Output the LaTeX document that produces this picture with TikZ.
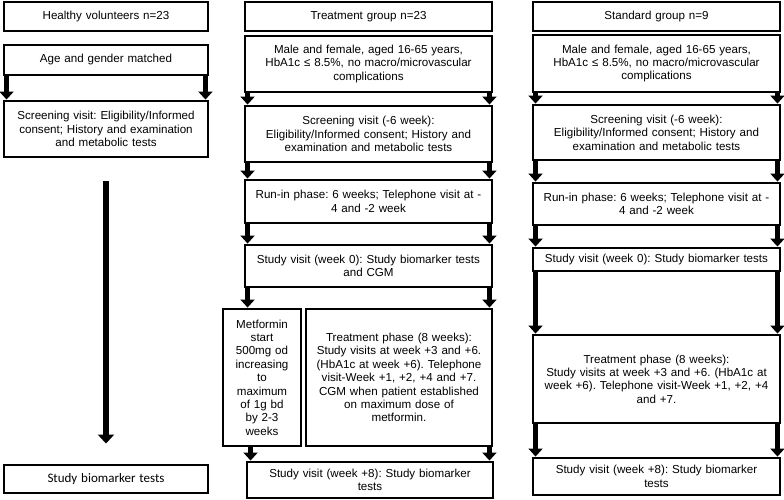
\documentclass[tikz,border=0pt]{standalone}
\usepackage{fontspec}
\setmainfont{Liberation Sans}
\newfontfamily\calibrifont{Carlito}
\usetikzlibrary{arrows.meta, calc}
\frenchspacing

\begin{document}
\begin{tikzpicture}[
  x=1pt, y=-1pt,
  every node/.style={font=\fontsize{11.6}{13.4}\selectfont},
  flowbox/.style={draw, line width=2.9pt, align=center, inner xsep=4pt, inner ysep=2pt},
  flowarrow/.style={line width=4.6pt, -{Triangle[length=8pt, width=14pt]}},
  bigarrow/.style={line width=6.5pt, -{Triangle[length=9pt, width=16pt]}}
]
  \useasboundingbox (0,0) rectangle (784,500);

  % Macro to draw one box from its corners
  % Args: name, left, top, right, bottom, text
  \newcommand{\flowbox}[6]{%
    \pgfmathsetmacro{\boxw}{#4-#2}
    \pgfmathsetmacro{\boxh}{#5-#3}
    \pgfmathsetmacro{\boxtw}{#4-#2-8}
    \node[flowbox, minimum width=\boxw pt, minimum height=\boxh pt, text width=\boxtw pt]
      (#1) at ({(#2+#4)/2},{(#3+#5)/2}) {#6};
  }

  % Healthy volunteers
  \flowbox{headH}{4}{2}{208}{31}{Healthy volunteers n=23}
  \flowbox{ageH}{4}{45}{208}{75}{Age and gender matched}
  \flowbox{scrH}{4}{101}{208}{157}
    {Screening visit: Eligibility/Informed\\consent; History and examination\\and metabolic tests}
  \flowbox{bioH}{4}{465}{208}{493}
    {\calibrifont\fontsize{13}{15}\selectfont Study biomarker tests}

  % Treatment group
  \flowbox{headT}{245}{2}{492}{31}{Treatment group n=23}
  \flowbox{inclT}{245}{36}{492}{92}
    {Male and female, aged 16-65 years,\\HbA1c ≤ 8.5\%, no macro/microvascular\\complications}
  \flowbox{scrT}{245}{106}{492}{162}
    {Screening visit (-6 week):\\Eligibility/Informed consent; History and\\examination and metabolic tests}
  \flowbox{runT}{245}{180}{492}{223}
    {Run-in phase: 6 weeks; Telephone visit at -\\4 and -2 week}
  \flowbox{wk0T}{245}{245}{492}{287}
    {Study visit (week 0): Study biomarker tests\\and CGM}
  \flowbox{metT}{223}{309}{301}{446}
    {Metformin\\start\\500mg od\\increasing\\to\\maximum\\of 1g bd\\by 2-3\\weeks}
  \flowbox{trtT}{306}{309}{492}{446}
    {Treatment phase (8 weeks):\\Study visits at week +3 and +6.\\(HbA1c at week +6). Telephone\\visit-Week +1, +2, +4 and +7.\\CGM when patient established\\on maximum dose of\\metformin.}
  \flowbox{wk8T}{247}{462}{493}{498}
    {Study visit (week +8): Study biomarker\\tests}

  % Standard group
  \flowbox{headS}{533}{2}{780}{31}{Standard group n=9}
  \flowbox{inclS}{533}{35}{780}{92}
    {Male and female, aged 16-65 years,\\HbA1c ≤ 8.5\%, no macro/microvascular\\complications}
  \flowbox{scrS}{533}{105}{780}{160}
    {Screening visit (-6 week):\\Eligibility/Informed consent; History and\\examination and metabolic tests}
  \flowbox{runS}{533}{183}{780}{225}
    {Run-in phase: 6 weeks; Telephone visit at -\\4 and -2 week}
  \flowbox{wk0S}{533}{248}{780}{271}
    {Study visit (week 0): Study biomarker tests}
  \flowbox{trtS}{533}{335}{780}{423}
    {Treatment phase (8 weeks):\\Study visits at week +3 and +6. (HbA1c at\\week +6). Telephone visit-Week +1, +2, +4\\and +7.}
  \flowbox{wk8S}{533}{458}{780}{495}
    {Study visit (week +8): Study biomarker\\tests}

  % Arrows down the left edges
  \foreach \a/\b in {ageH/scrH, inclT/scrT, scrT/runT, runT/wk0T, wk0T/metT,
                     inclS/scrS, scrS/runS, runS/wk0S, wk0S/trtS, trtS/wk8S}
    \draw[flowarrow] ([xshift=4pt]\a.south west) -- ([xshift=4pt]\a.south west |- \b.north);
  % Arrows down the right edges
  \foreach \a/\b in {ageH/scrH, inclT/scrT, scrT/runT, runT/wk0T, wk0T/trtT, trtT/wk8T,
                     inclS/scrS, scrS/runS, runS/wk0S, wk0S/trtS, trtS/wk8S}
    \draw[flowarrow] ([xshift=-4pt]\a.south east) -- ([xshift=-4pt]\a.south east |- \b.north);
  \draw[flowarrow] ([xshift=5pt]wk8T.north west |- metT.south) -- ([xshift=5pt]wk8T.north west);

  % Long arrow for the volunteers
  \draw[bigarrow, shorten <=23pt, shorten >=20pt] (scrH) -- (bioH);
\end{tikzpicture}
\end{document}
